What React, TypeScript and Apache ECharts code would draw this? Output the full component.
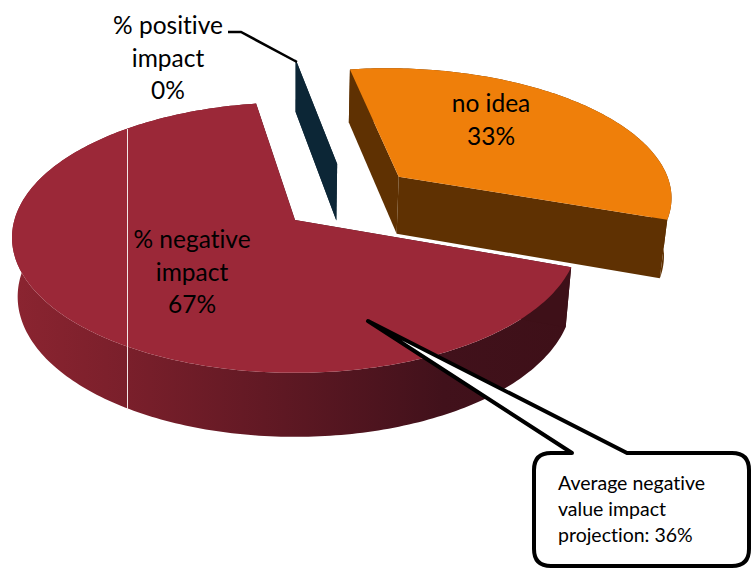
import React, { useEffect, useRef } from "react";
import * as echarts from "echarts";

const categories = ["% positive impact", "no idea", "% negative impact"];
const labelLines = ["% positive\nimpact", "no idea", "% negative\nimpact"];
const values = [0, 33, 67];
const calloutText = "Average negative\nvalue impact\nprojection: 36%";

const topColors = ["#0C2636", "#EF7F0A", "#9B2838"];
const FONT = "Lato, 'Open Sans', sans-serif";

// projection of the tilted pie
const CX = 295, CY = 220, RX = 280.6, RY = 133, PERSP = 0.13;
const DEPTH = 58.5, BOTTOM_SX = 0.98, BOTTOM_SY = 1.036;
const START_ANGLE = 351;
const explode: number[][] = [[0.159, -0.446], [0.386, -0.34], [0, 0]];
const labelPos: number[][] = [[168, 57], [491, 119], [192, 271]];

const project = (u: number, v: number) => {
  const w = 1 - PERSP * v;
  return [CX + (RX * u) / w, CY + (RY * v) / w];
};
const toBottom = (p: number[]) => [
  CX + (p[0] - CX) * BOTTOM_SX,
  CY + DEPTH + (p[1] - CY) * BOTTOM_SY,
];

const redWall = () =>
  new echarts.graphic.LinearGradient(
    18, 0, 563, 0,
    [
      { offset: 0, color: "#8A2430" },
      { offset: 0.2, color: "#7A1F2B" },
      { offset: 0.45, color: "#621924" },
      { offset: 0.78, color: "#41111B" },
      { offset: 1, color: "#3E1018" },
    ],
    true
  );
const wallFill = (i: number): any =>
  i === 2 ? redWall() : i === 1 ? "#5F3102" : "#0C2636";

const renderSlice = (params: any, api: any) => {
  const i = params.dataIndex;
  const val = api.value(0);
  const total = values.reduce((a, b) => a + b, 0);
  let before = 0;
  for (let k = 0; k < i; k++) before += values[k];
  const a0 = START_ANGLE + (before / total) * 360;
  const a1 = a0 + (val / total) * 360;
  const [ou, ov] = explode[i];
  const rim: number[][] = [];
  const n = Math.max(1, Math.ceil(a1 - a0));
  for (let k = 0; k <= n; k++) {
    const t = ((a0 + ((a1 - a0) * k) / n) * Math.PI) / 180;
    rim.push(project(Math.sin(t) + ou, -Math.cos(t) + ov));
  }
  const apex = project(ou, ov);
  const bottomRim = rim.map(toBottom);
  const bottomApex = toBottom(apex);
  const fill = wallFill(i);
  const children: any[] = [];
  const poly = (points: number[][], f: any) =>
    children.push({ type: "polygon", shape: { points }, style: { fill: f } });
  poly([...rim, ...bottomRim.slice().reverse()], fill);
  poly([apex, rim[0], bottomRim[0], bottomApex], i === 2 ? "#3E1018" : fill);
  poly([apex, rim[rim.length - 1], bottomRim[bottomRim.length - 1], bottomApex], i === 2 ? "#3E1018" : fill);
  if (val > 0) poly([apex, ...rim], topColors[i]);
  return { type: "group", children };
};

echarts.graphic.registerShape(
  "calloutPath",
  echarts.graphic.extendPath(
    "M551 453 L572 453 L368 321 L627 453 L732 453 Q749 453 749 470 L749 549 Q749 566 732 566 L551 566 Q534 566 534 549 L534 470 Q534 453 551 453 Z",
    {}
  ) as any
);

export default function App() {
  const ref = useRef<HTMLDivElement>(null);
  useEffect(() => {
    document.body.style.margin = "0";
    const chart = echarts.init(ref.current!, null, { renderer: "svg" });
    chart.setOption({
      animation: false,
      backgroundColor: "#fff",
      series: [
        {
          type: "custom",
          coordinateSystem: "none",
          name: "impact",
          data: categories.map((c, i) => ({ name: c, value: [values[i]] })),
          renderItem: renderSlice,
          clip: false,
          silent: true,
          z: 1,
        },
      ],
      graphic: [
        { type: "line", z: 5, shape: { x1: 127.5, y1: 129, x2: 127.5, y2: 410 }, style: { stroke: "#F4E6E6", lineWidth: 1 } },
        { type: "polyline", z: 5, shape: { points: [[228, 32], [241, 32], [297, 62]] }, style: { stroke: "#000", lineWidth: 2.5, fill: "none" } },
        { type: "calloutPath", z: 6, style: { fill: "#fff", stroke: "#000", lineWidth: 4, lineJoin: "round" } },
        ...categories.map((c, i) => ({
          type: "text",
          z: 7,
          x: labelPos[i][0],
          y: labelPos[i][1],
          style: {
            text: `${labelLines[i]}\n${values[i]}%`,
            fontFamily: FONT,
            fontSize: 24.5,
            lineHeight: 32.5,
            fill: "#000",
            align: "center",
            verticalAlign: "middle",
          },
        })),
        {
          type: "text",
          z: 7,
          x: 558,
          y: 508,
          style: {
            text: calloutText,
            fontFamily: FONT,
            fontSize: 19.5,
            lineHeight: 26,
            fill: "#000",
            align: "left",
            verticalAlign: "middle",
          },
        },
      ],
    });
    return () => chart.dispose();
  }, []);
  return (
    <div
      ref={ref}
      style={{
        position: "fixed",
        left: 0,
        top: 0,
        width: 751,
        height: 569,
        fontVariantLigatures: "none",
      }}
    />
  );
}
